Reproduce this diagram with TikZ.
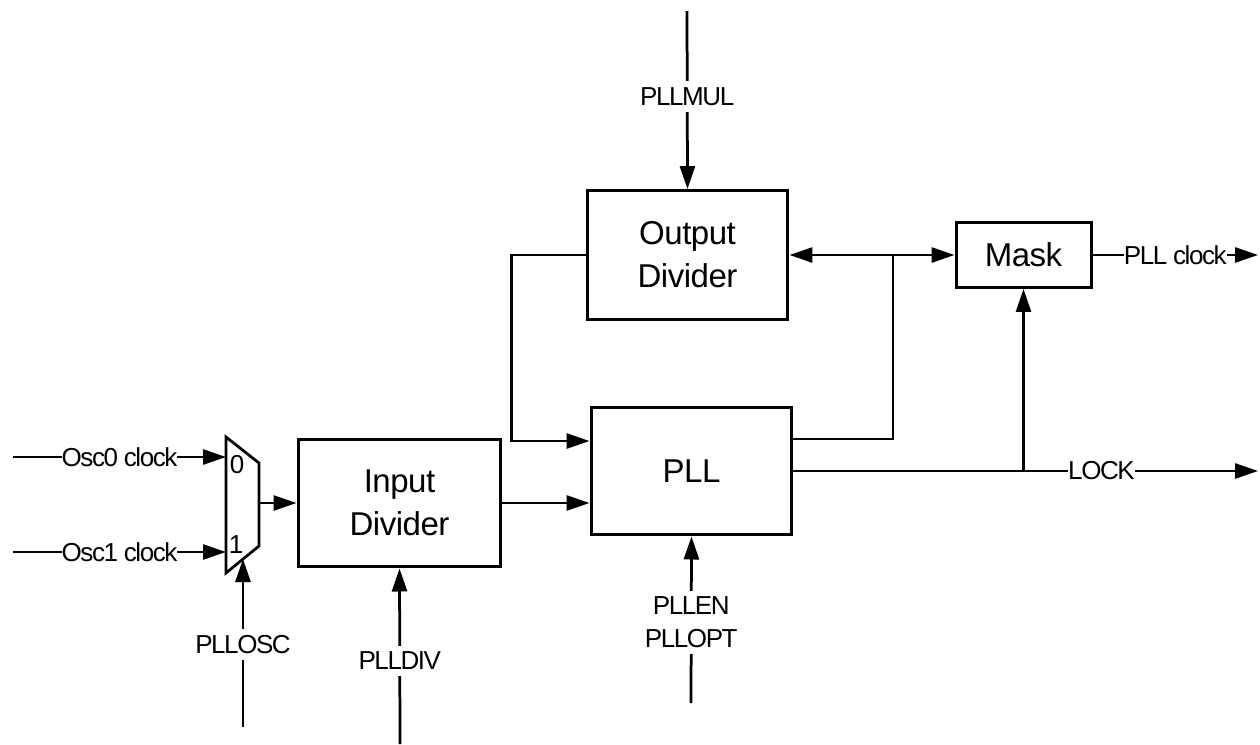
\documentclass[tikz,border=0pt]{standalone}
\usepackage{fontspec}
\setmainfont{Liberation Sans}
\newfontfamily\narrowsmall[LetterSpace=-5.5]{Liberation Sans}
\newfontfamily\narrowbig[LetterSpace=-1.5]{Liberation Sans}
\usetikzlibrary{arrows.meta}
\begin{document}
\begin{tikzpicture}[x=0.02cm,y=-0.02cm]
        \tikzstyle{block} = [draw, line width=0.06cm, font=\narrowbig\fontsize{18.8}{24.4}\selectfont, align=center, inner sep=0]
        \tikzstyle{sig} = [line width=0.055cm, -{Triangle[length=0.46cm,width=0.3cm]}]
        \tikzstyle{wire} = [line width=0.055cm]
        \tikzstyle{lbl} = [fill=white, inner xsep=0, inner ysep=0.12cm, font=\narrowsmall\fontsize{14.8}{18.8}\selectfont, align=center]
        \useasboundingbox (0,0) rectangle (1260,744);

        \node[block, minimum width=4.06cm, minimum height=2.56cm] (indiv) at (399.5,503) {Input\\Divider};
        \node[block, minimum width=4.02cm, minimum height=2.56cm] (pll) at (691.5,471) {PLL};
        \node[block, minimum width=4.02cm, minimum height=2.58cm] (outdiv) at (687.5,255) {Output\\Divider};
        \node[block, minimum width=2.7cm, minimum height=1.3cm] (mask) at (1023.5,255) {Mask};

        \draw[wire] (226,437) -- ++(33,26) -- ++(0,83) -- ++(-33,27) -- cycle;
        \node[lbl, fill=none, inner sep=0] (sel0) at (237,465) {0};
        \node[lbl, fill=none, inner sep=0] (sel1) at (236,545) {1};
        \coordinate (mux0) at (226,457);
        \coordinate (mux1) at (226,552);
        \coordinate (muxout) at (259,503);
        \coordinate (muxsel) at (243,559);

        \coordinate (osc0) at (13,457);
        \coordinate (osc1) at (13,552);
        \coordinate (oscsel) at (243,727);
        \coordinate (divsel) at (400,744);
        \coordinate (mulsel) at (687,11);
        \coordinate (pllsel) at (691,703);
        \coordinate (clkout) at (1258,255);
        \coordinate (lockout) at (1258,471);

        \draw[sig] (osc0) -- node[lbl] {Osc0 clock} (mux0);
        \draw[sig] (osc1) -- node[lbl] {Osc1 clock} (mux1);
        \draw[sig] (oscsel) -- node[lbl, pos=0.49] {PLLOSC} (muxsel);
        \draw[sig] (muxout) -- (muxout -| indiv.west);
        \draw[sig] (divsel) -- node[lbl, pos=0.475] {PLLDIV} (indiv.south);
        \draw[sig] (indiv.east) -- (indiv.east -| pll.west);
        \draw[sig] (pllsel) -- node[lbl, pos=0.485] {PLLEN\\PLLOPT} (pll.south);
        \draw[sig] (mulsel) -- node[lbl, pos=0.48] {PLLMUL} (outdiv.north);

        \draw[sig] (outdiv.west) -- ++(-74,0) |- ([yshift=0.6cm]pll.west);
        \coordinate (split) at (893,255);
        \draw[wire] ([yshift=0.64cm]pll.east) -| (split);
        \draw[sig] (split) -- (outdiv.east);
        \draw[sig] (split) -- (mask.west);
        \draw[sig] (mask.east) -- node[lbl] {PLL clock} (clkout);

        \draw[sig] (pll.east) -- node[lbl, pos=0.663] {LOCK} (lockout);
        \draw[sig] (pll.east -| mask.south) -- (mask.south);
\end{tikzpicture}
\end{document}
